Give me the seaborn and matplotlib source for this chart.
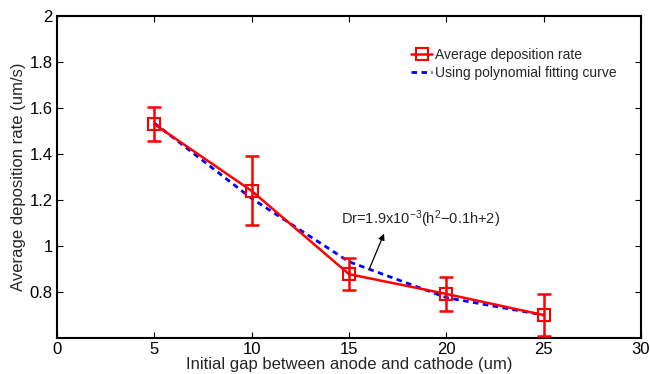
import numpy as np
import pandas as pd
import matplotlib
matplotlib.use('Agg')
from matplotlib import pyplot as plt
import seaborn as sns

# data
gap = [5, 10, 15, 20, 25]
rate = [1.53, 1.24, 0.878, 0.792, 0.70]
rate_err = [0.075, 0.15, 0.07, 0.075, 0.09]
fit = [1.535, 1.207, 0.932, 0.776, 0.70]

df = pd.DataFrame({'gap': gap, 'rate': rate, 'err': rate_err, 'fit': fit})

sns.set_theme(style='white')
plt.rcParams['font.family'] = ['Liberation Sans', 'DejaVu Sans']
plt.rcParams['mathtext.fontset'] = 'custom'
plt.rcParams['mathtext.rm'] = 'Liberation Sans'
plt.rcParams['mathtext.it'] = 'Liberation Sans'

fig = plt.figure(figsize=(6.5, 3.74), dpi=100)
ax = fig.add_axes([0.0877, 0.096, 0.8985, 0.861])

ax.errorbar(df['gap'], df['rate'], yerr=df['err'], fmt='none', ecolor='red',
            elinewidth=1.8, capsize=5, capthick=1.8, zorder=3)
sns.lineplot(data=df, x='gap', y='rate', ax=ax, color='red', linewidth=1.8,
             marker='s', markersize=8.5, markerfacecolor='none',
             markeredgecolor='red', markeredgewidth=1.5,
             label='Average deposition rate', zorder=4)
sns.lineplot(data=df, x='gap', y='fit', ax=ax, color='blue', linewidth=2,
             linestyle=(0, (2, 1.6)), label='Using polynomial fitting curve', zorder=2)

ax.set_xlim(0, 30)
ax.set_ylim(0.6, 2)
ax.set_xticks([0, 5, 10, 15, 20, 25, 30])
ax.set_yticks([0.8, 1, 1.2, 1.4, 1.6, 1.8, 2])
ax.set_yticklabels(['0.8', '1', '1.2', '1.4', '1.6', '1.8', '2'])
ax.tick_params(direction='in', length=4, width=0.8, colors='black',
               labelsize=12, top=True, right=True, bottom=True, left=True, pad=3)
for s in ax.spines.values():
    s.set_color('black')
    s.set_linewidth(1.5)

ax.set_xlabel('Initial gap between anode and cathode (um)', fontsize=12, labelpad=0)
ax.set_ylabel('Average deposition rate (um/s)', fontsize=12, labelpad=3)

# annotation: arrow runs from the fitted curve up to the formula
ax.annotate('', xy=(16.8, 1.054), xytext=(16.03, 0.898),
            arrowprops=dict(arrowstyle='-|>', color='black', lw=0.9,
                            mutation_scale=9, shrinkA=0, shrinkB=0))
ax.text(18.65, 1.115, r'Dr=1.9x10$^{-3}$(h$^2$$-$0.1h+2)', fontsize=10.5,
        ha='center', va='center')

leg = ax.legend(loc='upper left', bbox_to_anchor=(0.585, 0.94), frameon=False,
                fontsize=10, handlelength=1.5, handletextpad=0.2, labelspacing=0.3)

fig.savefig('out.png', dpi=100)
